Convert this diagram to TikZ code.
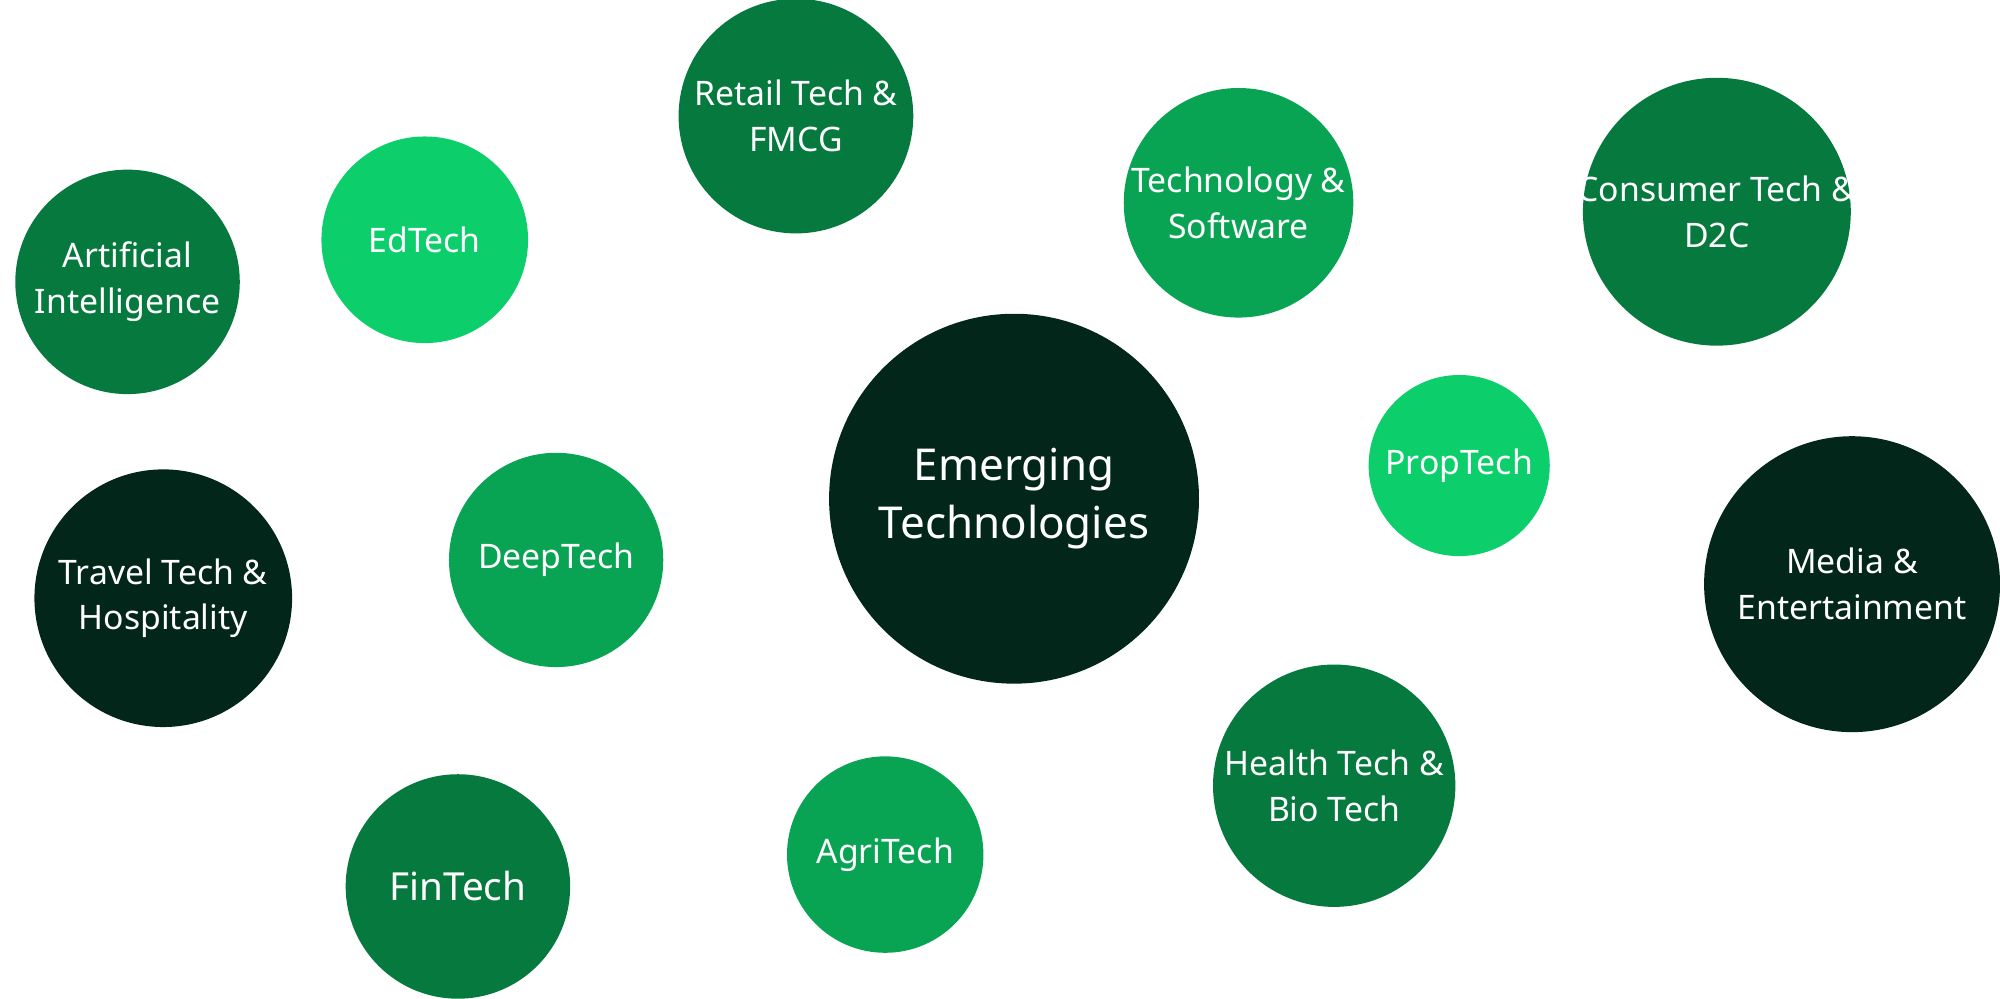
\documentclass[tikz,border=0pt]{standalone}
\usepackage{fontspec}
\setmainfont{Noto Sans}
\definecolor{cA}{HTML}{067A3E}
\definecolor{cB}{HTML}{0CCE6B}
\definecolor{cC}{HTML}{08A454}
\definecolor{cD}{HTML}{03261A}
\begin{document}
\begin{tikzpicture}[x=0.012755cm,y=-0.012755cm,
  bub/.style={circle,inner sep=0pt,text=white,align=center,font=\fontsize{9.6}{13}\selectfont}]
\useasboundingbox (0,0) rectangle (1568,783);
\newcommand\bub[5]{\node[bub,fill=#4,minimum size=#3*0.02551cm] (#5) at (#1,#2) {};}
\bub{624}{91}{92}{cA}{retail}
\node[bub] at (retail) {Retail Tech \&\\FMCG};
\bub{333}{188}{81}{cB}{edtech}
\node[bub] at (edtech) {EdTech};
\bub{100}{221}{88}{cA}{ai}
\node[bub] at (ai) {Artificial\\Intelligence};
\bub{971}{159}{90}{cC}{tech}
\node[bub] at (tech) {Technology \&\\Software};
\bub{1346}{166}{105}{cA}{cons}
\node[bub] at (cons) {Consumer Tech \&\\D2C};
\bub{795}{391}{145}{cD}{emerg}
\node[bub,font=\fontsize{12.5}{16.5}\selectfont] at (emerg) {Emerging\\Technologies};
\bub{1144}{365}{71}{cB}{prop}
\node[bub] at (prop) {PropTech};
\bub{128}{469}{101}{cD}{travel}
\node[bub] at (travel) {Travel Tech \&\\Hospitality};
\bub{436}{439}{84}{cC}{deep}
\node[bub] at (deep) {DeepTech};
\bub{1452}{458}{116}{cD}{media}
\node[bub] at (media) {Media \&\\Entertainment};
\bub{1046}{616}{95}{cA}{health}
\node[bub] at (health) {Health Tech \&\\Bio Tech};
\bub{359}{695}{88}{cA}{fin}
\node[bub,font=\fontsize{11}{14}\selectfont] at (fin) {FinTech};
\bub{694}{670}{77}{cC}{agri}
\node[bub] at (agri) {AgriTech};
\end{tikzpicture}
\end{document}
